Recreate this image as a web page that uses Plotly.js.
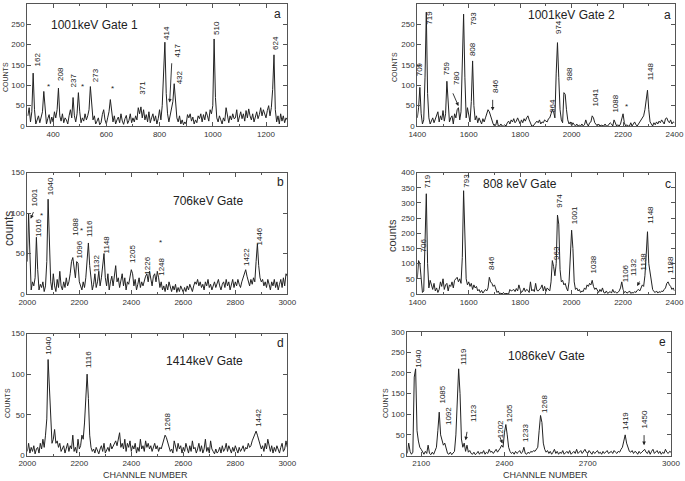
<!DOCTYPE html>
<html>
<head>
<meta charset="utf-8">
<script src="https://cdn.plot.ly/plotly-3.0.1.min.js"></script>
<style>html,body{margin:0;padding:0;background:#fff;}#chart{width:685px;height:481px;}</style>
</head>
<body>
<div id="chart"></div>
<script>
// ---------- DATA (counts per 5-channel bin) ----------
const stepCh = 5;

// Panel a (left): 1001keV Gate 1, channels from 305
const startA1 = 305;
const countsA1 = [
25,45,10,35,130,40,5,15,25,8,
20,35,85,30,5,18,28,6,22,10,
35,20,40,93,25,12,30,8,20,15,
5,25,40,20,70,25,10,30,82,35,
8,20,12,30,15,25,40,97,45,15,
25,5,12,20,3,8,28,40,15,5,
20,35,65,40,10,25,5,15,22,8,
30,12,4,18,26,6,14,30,8,20,
10,25,15,45,30,47,20,40,15,28,
10,35,8,20,30,12,25,5,18,40,
15,50,120,206,80,30,10,25,45,60,
104,50,20,10,25,5,15,3,10,5,
28,20,30,12,22,5,15,8,25,18,
30,10,28,15,35,25,12,40,30,50,
214,70,20,10,25,15,5,20,12,45,
20,8,25,15,30,18,20,40,10,25,
35,18,30,12,38,20,42,25,15,30,
10,22,35,18,28,45,25,40,30,20,
38,50,25,45,90,175,40,10,25,5,
30,12,25,8,20,15];

// Panel a (right): 1001keV Gate 2, channels from 1400
const startA2 = 1400;
const countsA2 = [
20,45,95,30,5,15,120,280,80,20,
5,15,20,8,18,30,35,10,25,15,
38,12,30,110,40,10,20,25,5,30,
20,40,45,15,35,150,275,120,20,45,
25,10,60,160,50,15,25,8,20,12,
5,18,10,20,30,40,35,25,10,5,
0,2,15,0,0,5,0,0,3,0,
8,12,5,15,10,18,8,12,20,10,
5,15,8,18,12,20,25,15,5,0,
0,5,10,12,8,15,5,10,8,15,
12,10,18,20,30,40,35,20,130,205,
120,40,15,8,82,78,40,15,5,10,
0,8,3,0,5,0,2,0,5,0,
3,15,5,0,8,10,25,20,8,3,
0,5,0,2,0,0,5,0,0,3,
8,5,0,15,5,0,3,0,5,20,
30,8,0,3,0,0,8,0,5,10,
3,0,5,10,15,20,25,40,60,88,
40,10,5,0,8,3,10,5,12,8,
15,10,5,18,20,12,8,15,5,10,
8];

// Panel b: 706keV Gate, channels from 2000
const startB = 2000;
const countsB = [
40,100,50,5,15,10,20,70,30,5,
12,8,15,3,10,40,117,60,15,5,
25,10,3,18,8,28,10,5,15,8,
20,10,15,25,40,45,30,20,40,38,
15,10,5,15,8,20,40,63,35,15,
5,12,25,8,15,28,10,20,40,50,
20,10,25,5,15,22,10,25,35,15,
20,8,18,25,10,20,5,15,12,20,
30,25,10,18,5,12,20,8,15,10,
18,22,25,15,28,20,10,22,25,15,
28,20,8,15,5,10,3,12,5,15,
8,3,10,5,12,2,8,3,10,5,
2,8,3,10,5,12,8,3,10,15,
12,18,10,15,8,12,5,15,10,18,
8,12,5,10,15,8,12,18,10,5,
12,15,8,18,10,15,5,12,18,8,
15,10,18,12,8,15,20,25,30,22,
15,10,18,12,20,15,40,62,35,20,
15,18,10,15,8,18,12,5,15,10,
18,8,15,5,12,18,8,20,10,25,
22];

// Panel c: 808 keV Gate, channels from 1400
const startC = 1400;
const countsC = [
50,110,100,45,5,10,150,330,100,20,
45,30,15,35,10,20,5,15,40,25,
50,15,30,35,10,30,25,40,20,45,
50,55,40,50,35,120,340,200,50,30,
40,25,35,15,30,20,25,10,15,5,
12,3,8,15,10,20,55,40,35,25,
30,15,5,10,0,3,0,5,0,2,
0,0,15,10,12,15,8,18,10,30,
15,5,10,20,8,15,12,5,40,10,
15,8,35,12,10,15,20,30,10,25,
8,20,15,10,40,110,90,60,100,260,
230,80,40,45,30,35,20,10,40,120,
210,150,40,15,20,10,15,5,10,8,
20,15,30,25,35,30,45,25,15,20,
10,5,15,8,20,5,3,10,2,5,
8,3,15,5,8,3,5,10,20,40,
15,5,8,3,5,10,2,5,3,8,
5,12,15,10,20,30,25,60,130,205,
100,70,30,15,8,5,10,3,8,5,
10,8,15,20,35,40,30,25,15,20,
10];

// Panel d: 1414keV Gate, channels from 2000
const startD = 2000;
const countsD = [
5,15,3,10,5,12,2,8,10,3,
15,8,20,10,25,45,118,80,40,15,
20,32,15,18,10,15,5,8,12,3,
10,15,5,12,8,25,5,10,3,20,
8,12,25,20,40,65,100,70,25,10,
5,8,3,10,5,2,8,12,5,15,
3,8,10,5,15,8,12,15,18,12,
20,28,10,15,8,20,5,15,10,18,
5,12,8,15,3,10,5,20,8,12,
5,18,10,15,8,12,5,10,15,8,
12,5,10,8,15,20,25,22,15,12,
5,8,3,18,10,5,15,8,12,3,
10,5,15,8,3,12,5,18,8,10,
3,8,15,5,12,3,8,20,5,10,
3,18,8,5,2,8,3,5,10,3,
12,5,8,15,5,12,8,3,10,5,
12,8,3,10,5,8,12,5,10,8,
15,10,12,18,22,28,30,25,20,15,
8,12,5,15,8,20,10,5,12,3,
10,5,12,8,3,10,15,5,8,18,
10];

// Panel e: 1086keV Gate, channels from 2050
const startE = 2050;
const countsE = [
5,30,10,3,8,190,210,60,35,20,
15,8,3,10,5,25,5,2,8,3,
10,20,60,105,50,35,25,30,15,5,
3,8,2,5,10,50,130,210,150,40,
20,30,10,25,8,12,5,3,8,2,
5,10,3,8,5,12,3,8,5,15,
8,10,5,12,15,8,12,18,25,20,
55,75,50,20,10,5,8,3,10,5,
8,12,5,8,20,5,3,8,5,10,
8,12,10,15,20,60,97,80,30,15,
8,12,5,10,3,8,15,5,10,3,
8,5,12,3,8,10,5,12,3,8,
10,5,15,5,8,12,5,10,15,8,
5,12,8,3,10,5,8,12,5,8,
3,10,5,8,12,5,8,10,5,12,
8,5,10,8,15,20,35,50,30,20,
10,8,12,5,10,8,3,10,5,8,
12,15,8,5,12,3,10,15,5,8,
12,5,10,3,8,5,15,8,5,10,
8];

// Peak labels: [text, channel, counts at label base]
const peaksA1 = [["162",340,142],["208",430,106],["237",477,89],["273",559,104],["371",736,71],
  ["414",826,208],["417",866,164],["432",876,97],["510",1016,219],["624",1235,183]];
const starsA1 = [[384,97],[509,97],[625,92]];
const peaksA2 = [["709",1410,117],["719",1449,244],["759",1512,120],["780",1553,95],["793",1618,243],
  ["808",1615,166],["846",1702,76],["964",1923,27],["974",1949,220],["988",1991,107],
  ["1041",2091,43],["1088",2167,27],["1148",2308,107]];
const starsA2 = [[2212,48]];
const peaksB = [["1001",2028,105],["1016",2045,68],["1040",2090,119],["1088",2182,69],["1096",2202,41],
  ["1116",2240,68],["1132",2266,25],["1148",2304,48],["1205",2407,36],["1226",2463,21],
  ["1248",2518,20],["1422",2841,32],["1446",2893,58]];
const starsB = [[2054,97],[2208,78],[2512,64]];
const peaksC = [["706",1423,131],["719",1439,343],["793",1591,345],["846",1688,74],["963",1941,107],
  ["974",1954,277],["1001",2012,222],["1038",2086,60],["1106",2212,33],["1132",2238,52],
  ["1138",2280,70],["1148",2306,226],["1188",2381,59]];
const peaksD = [["1040",2081,122],["1116",2235,105],["1268",2542,28],["1442",2888,33]];
const peaksE = [["1040",2090,209],["1085",2177,120],["1092",2198,70],["1119",2250,215],["1123",2286,76],
  ["1202",2384,37],["1205",2417,76],["1233",2476,27],["1268",2542,98],["1419",2838,57],["1450",2903,61]];

// Arrows: [tailX, tailY, headX, headY]
const arrowsA1 = [[846,158,838,58]];
const arrowsA2 = [[1536,84,1560,49],[1693,68,1693,38]];
const arrowsB = [[2026,103,2013,93]];
const arrowsC = [[2267,46,2255,26]];
const arrowsE = [[2266,61,2260,37],[2381,49,2393,29],[2903,53,2903,25]];

// Gate titles and panel letters
const gateNames = ["1001keV Gate 1","1001keV Gate 2","706keV Gate","808 keV Gate","1414keV Gate","1086keV Gate"];
const panelLetters = ["a","a","b","c","d","e"];

// ---------- BUILD ----------
const FONT = "Liberation Sans, Arial, sans-serif";
function chans(start, n){ const a=[]; for(let i=0;i<n;i++) a.push(start+i*stepCh); return a; }
function trace(start, counts, k){
  return {type:'scatter', mode:'lines', x:chans(start,counts.length), y:counts,
    xaxis:'x'+(k===1?'':k), yaxis:'y'+(k===1?'':k),
    line:{color:'#222', width:1}, hoverinfo:'skip'};
}
const data = [
  trace(startA1,countsA1,1), trace(startA2,countsA2,2), trace(startB,countsB,3),
  trace(startC,countsC,4), trace(startD,countsD,5), trace(startE,countsE,6)
];

const W=685, H=481;
function dx(a,b){ return [a/W, b/W]; }
function dy(top,bot){ return [1-bot/H, 1-top/H]; }
function xa(domain, range, dtick, anchor, minor, extra){
  const o = {domain, range, dtick, tick0:0, anchor, showline:true, mirror:'ticks', linecolor:'#555', linewidth:1,
    ticks:'inside', ticklen:4, tickcolor:'#555', showgrid:false, zeroline:false,
    tickfont:{family:FONT, size:8, color:'#333'}, fixedrange:true};
  if(minor) o.minor = {ticks:'inside', ticklen:2, dtick:minor, tickcolor:'#555', showgrid:false};
  return Object.assign(o, extra||{});
}
function ya(domain, range, dtick, anchor){
  return {domain, range, dtick, tick0:0, anchor, showline:true, mirror:'ticks', linecolor:'#555', linewidth:1,
    ticks:'inside', ticklen:4, tickcolor:'#555', showgrid:false, zeroline:false,
    tickfont:{family:FONT, size:8, color:'#333'}, fixedrange:true};
}

const L = dx(27.3,287.3), R = dx(417.3,674.5), RE = dx(407.3,671);
const r1 = dy(4,126), r2 = dy(172.5,294), r3 = dy(333.5,455.5), r3e = dy(331.7,455.5);

const layout = {
  width:W, height:H, margin:{l:0,r:0,t:0,b:0}, paper_bgcolor:'#fff', plot_bgcolor:'#fff',
  showlegend:false, font:{family:FONT, color:'#222'},
  xaxis: xa(L,[303,1280],200,'y',100),
  yaxis: ya(r1,[0,300],50,'x'),
  xaxis2: xa(R,[1400,2400],200,'y2',100),
  yaxis2: ya(r1,[0,300],50,'x2'),
  xaxis3: xa(L,[2000,3000],200,'y3',100),
  yaxis3: ya(r2,[0,150],50,'x3'),
  xaxis4: xa(R,[1400,2400],200,'y4',100),
  yaxis4: ya(r2,[0,400],50,'x4'),
  xaxis5: xa(L,[2000,3000],200,'y5',100),
  yaxis5: ya(r3,[0,150],50,'x5'),
  xaxis6: xa(RE,[2050,3000],300,'y6',null,{tick0:2100}),
  yaxis6: ya(r3e,[0,300],50,'x6'),
  annotations: []
};

const ann = layout.annotations;
function refs(k){ return {xref:'x'+(k===1?'':k), yref:'y'+(k===1?'':k)}; }
function addPeaks(list,k){
  list.forEach(p => ann.push(Object.assign({text:p[0], x:p[1], y:p[2], textangle:-90, showarrow:false,
    xanchor:'center', yanchor:'bottom', font:{family:FONT, size:8, color:'#222'}}, refs(k))));
}
function addStars(list,k){
  list.forEach(p => ann.push(Object.assign({text:'*', x:p[0], y:p[1], showarrow:false,
    xanchor:'center', yanchor:'middle', font:{family:FONT, size:8, color:'#222'}}, refs(k))));
}
function addArrows(list,k){
  const r = refs(k);
  list.forEach(a => ann.push({text:'', x:a[2], y:a[3], ax:a[0], ay:a[1], axref:r.xref, ayref:r.yref,
    xref:r.xref, yref:r.yref, showarrow:true, arrowhead:2, arrowsize:0.8, arrowwidth:0.9, arrowcolor:'#222'}));
}
function addPaper(text, px, py, size, angle, color){
  ann.push({text, x:px/W, y:1-py/H, xref:'paper', yref:'paper', showarrow:false, textangle:angle||0,
    xanchor:'center', yanchor:'middle', font:{family:FONT, size, color:color||'#333'}});
}

addPeaks(peaksA1,1); addStars(starsA1,1); addArrows(arrowsA1,1);
addPeaks(peaksA2,2); addStars(starsA2,2); addArrows(arrowsA2,2);
addPeaks(peaksB,3); addStars(starsB,3); addArrows(arrowsB,3);
addPeaks(peaksC,4); addArrows(arrowsC,4);
addPeaks(peaksD,5);
addPeaks(peaksE,6); addArrows(arrowsE,6);

// gate titles (page pixel centres) and panel letters
const titlePos = [[94.5,25],[571.5,15],[208,201],[520,184],[204,361],[546,356]];
const letterPos = [[277,14],[667,15],[280,182],[668,184],[280,343],[662,342]];
gateNames.forEach((t,i)=>addPaper(t, titlePos[i][0], titlePos[i][1], 12, 0, '#222'));
panelLetters.forEach((t,i)=>addPaper(t, letterPos[i][0], letterPos[i][1], 12, 0, '#222'));

// axis titles
addPaper('COUNTS', 6, 77, 7, -90);
addPaper('COUNTS', 394, 67, 7, -90);
addPaper('counts', 9, 229, 12, -90);
addPaper('counts', 392, 235, 11, -90);
addPaper('COUNTS', 7, 403, 7, -90);
addPaper('COUNTS', 385, 403, 7, -90);
addPaper('CHANNLE NUMBER', 145, 475, 9, 0);
addPaper('CHANNLE NUMBER', 545, 475, 9, 0);

Plotly.newPlot('chart', data, layout, {staticPlot:true, displayModeBar:false});
</script>
</body>
</html>
